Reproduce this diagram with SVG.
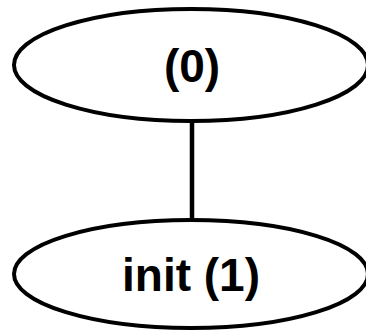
<svg xmlns="http://www.w3.org/2000/svg" width="366" height="332" viewBox="0 0 366 332">
<style>
.node ellipse{fill:#fff;stroke:#000;stroke-width:4}
.node text{font-family:"Liberation Sans",Arial,sans-serif;font-weight:bold;font-size:46px;text-anchor:middle;fill:#000}
.edge{stroke:#000;stroke-width:4.5;fill:none}
</style>
<rect width="366" height="332" fill="#fff"/>
<g id="connectors">
<line class="edge" x1="192" y1="121" x2="192" y2="221"/>
</g>
<g id="node0" class="node">
<ellipse cx="191" cy="65" rx="177" ry="56"/>
<text x="192" y="82">(0)</text>
</g>
<g id="node1" class="node">
<ellipse cx="191" cy="274" rx="177" ry="54"/>
<text x="191" y="291">init (1)</text>
</g>
</svg>
